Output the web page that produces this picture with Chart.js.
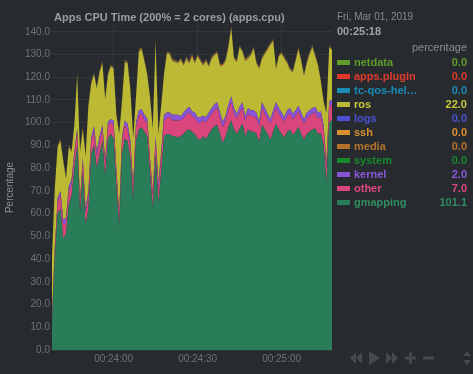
<!DOCTYPE html>
<html>
<head>
<meta charset="utf-8">
<script src="https://cdn.jsdelivr.net/npm/chart.js@4.4.0/dist/chart.umd.min.js"></script>
<style>
  html, body { margin: 0; padding: 0; background: #272b30; }
  #wrap { position: relative; width: 473px; height: 374px; overflow: hidden;
          font-family: "Liberation Sans", Arial, sans-serif; }
  #chart { position: absolute; left: 0; top: 0; }
  .title { position: absolute; left: 54px; top: 11px; font-size: 11px; font-weight: bold;
           color: #9a9ea2; white-space: nowrap; line-height: 13px; }
  .date { position: absolute; left: 337px; top: 11px; font-size: 10px; color: #868a8e; line-height: 12px; }
  .time { position: absolute; left: 337px; top: 25px; font-size: 11px; font-weight: bold; color: #9ea2a6; line-height: 13px; }
  .units { position: absolute; right: 6px; top: 41px; font-size: 11px; color: #8a8e92; line-height: 13px; }
  #legend { position: absolute; left: 337px; top: 55px; width: 130px; }
  .row { display: flex; align-items: center; height: 14px; line-height: 14px;
         font-size: 11px; font-weight: bold; white-space: nowrap; }
  .sw { width: 13px; height: 5px; margin-right: 4px; flex: none; }
  .nm { flex: 1; overflow: hidden; text-overflow: ellipsis; }
  .val { flex: none; text-align: right; }
  #ctrl { position: absolute; left: 348px; top: 348px; }
</style>
</head>
<body>
<div id="wrap">
  <canvas id="chart" width="473" height="374"></canvas>
  <div class="title">Apps CPU Time (200% = 2 cores) (apps.cpu)</div>
  <div class="date">Fri, Mar 01, 2019</div>
  <div class="time">00:25:18</div>
  <div class="units">percentage</div>
  <div id="legend"></div>
  <svg id="ctrl" width="125" height="20" viewBox="0 0 125 20">
    <g fill="#464a50">
      <polygon points="8,4 8,16 2,10"/><polygon points="14,4 14,16 8,10"/>
      <polygon points="21,3 21,17 32,10"/>
      <polygon points="38,4 38,16 44,10"/><polygon points="44,4 44,16 50,10"/>
      <rect x="57" y="8.5" width="11" height="3"/><rect x="61" y="4.5" width="3" height="11"/>
      <rect x="75" y="8.5" width="11" height="3"/>
      <polygon points="115,8 119,3 123,8"/><polygon points="115,12 119,17 123,12"/>
    </g>
  </svg>
</div>
<script>
// window starts at 00:23:38, one sample per second, ends 00:25:18
const startSec = 23 * 60 + 38;
const sampleCount = 101;
const tickLabels = ['00:24:00', '00:24:30', '00:25:00'];
const yTickValues = [0, 10, 20, 30, 40, 50, 60, 70, 80, 90, 100, 110, 120, 130, 140];

// stacked dimensions (bottom first)
const gmapping = [12, 40, 60, 62, 49, 51, 64, 68, 80, 90,
  60, 78, 55, 62, 86, 90, 80, 86, 92, 76,
  93, 95, 93, 72, 54, 86, 93, 92, 84, 66,
  92, 97, 98, 96, 94, 78, 62, 86, 65, 78,
  94, 95, 95, 94, 94, 93.5, 94, 95, 96.5, 97,
  96, 95, 93, 92.5, 94, 93, 95, 97, 98.5, 99,
  95, 91, 94, 98, 101, 97, 95, 97.5, 99.5, 94,
  97, 96, 96, 95, 91.5, 99, 97, 95, 92.5, 96,
  99.5, 97, 95, 93.5, 96, 97, 94.5, 96, 98, 95,
  92.5, 95, 96, 97, 97.5, 95, 95.5, 90, 73, 100,
  101.1];
const other = [2.5, 4, 5, 6, 6, 5, 6, 5, 6, 6,
  5, 5, 5, 6, 6, 6, 5, 6, 5, 6,
  6, 5, 6, 6, 5, 6, 6, 5, 6, 5,
  6, 6, 6, 5, 6, 5, 6, 6, 6, 7,
  7, 7, 7.5, 7, 7, 7.5, 7, 7, 7, 7.5,
  7, 7, 7, 7.5, 7, 7, 7, 7, 7, 7.5,
  7, 7, 7, 7.5, 8, 7, 7, 7, 7, 7,
  7, 7, 7, 7, 7, 7.5, 7, 7, 7, 7,
  7, 7, 7, 7, 7, 7, 7, 7, 7, 7,
  7, 7, 7, 7, 7, 7, 7, 7, 7, 7,
  7];
const kernel = [0.5, 1, 1.5, 2, 2.5, 2, 2, 2, 1.5, 1.5,
  1, 1.5, 2, 2, 1.5, 2.5, 2.5, 2, 2, 1.5,
  1.5, 1.5, 2, 1.5, 1, 1.5, 2, 2.5, 2, 1.5,
  2, 2.5, 2, 2.5, 2, 1.5, 1.5, 2, 2.5, 2,
  2.5, 2.5, 2, 2.5, 2.5, 2.5, 2, 2.5, 2.5, 2.5,
  2, 2.5, 2.5, 2.5, 2, 2.5, 2.5, 2.5, 2.5, 2.5,
  2.5, 2.5, 2, 2.5, 2.5, 2.5, 2, 2.5, 2.5, 2,
  2.5, 2.5, 2.5, 2.5, 2, 2.5, 2.5, 2, 2, 2.5,
  2.5, 2.5, 2.5, 2, 2.5, 2.5, 2.5, 2.5, 2.5, 2.5,
  2, 2.5, 2.5, 2.5, 2.5, 2.5, 2.5, 2, 2, 2.5,
  2];
// system, media, ssh, logs stayed at 0 over this window
const system = [];
const media = [];
const ssh = [];
const logs = [];
const ros = [26.2, 26.2, 22.7, 22.2, 25.7, 17.2, 17.2, 12.2, 11.7, 23.7,
  21.2, 12.7, 23.2, 37.2, 23.7, 22.7, 27.7, 28.2, 27.2, 26.7,
  20.7, 23.2, 22.7, 23.7, 35.2, 15.7, 25.7, 26.7, 22.2, 20.7,
  11.2, 25.7, 26.2, 23.7, 19.2, 26.7, 27.7, 42.2, 21.7, 20.2,
  17.7, 25.7, 25.7, 23.7, 23.2, 22.7, 24.7, 20.7, 22.2, 19.2,
  24.2, 21.7, 26.7, 24.7, 22.2, 24.7, 20.2, 21.7, 21.7, 21.7,
  20.7, 24.7, 24.2, 25.2, 30.2, 21.7, 22.7, 26.2, 22.2, 24.2,
  21.7, 24.2, 27.2, 21.7, 23.2, 19.2, 23.7, 28.2, 32.7, 30.7,
  14.7, 22.7, 25.7, 25.7, 20.7, 16.7, 18.2, 21.7, 24.7, 22.7,
  19.2, 21.7, 24.7, 26.7, 22.2, 20.7, 13.2, 10.2, 22.2, 23.7,
  22.0];
const tcQos = [0.1, 0.1, 0.1, 0.2, 0.1, 0.1, 0.1, 0.1, 0.2, 0.1,
  0.1, 0.1, 0.1, 0.1, 0.2, 0.1, 0.1, 0.1, 0.1, 0.1,
  0.2, 0.1, 0.1, 0.1, 0.1, 0.1, 0.2, 0.1, 0.1, 0.1,
  0.1, 0.2, 0.1, 0.1, 0.1, 0.1, 0.1, 0.1, 0.1, 0.1,
  0.1, 0.1, 0.2, 0.1, 0.1, 0.1, 0.1, 0.1, 0.3, 0.1,
  0.1, 0.1, 0.1, 0.1, 0.1, 0.1, 0.1, 0.2, 0.1, 0.1,
  0.1, 0.1, 0.1, 0.1, 0.1, 0.1, 0.1, 0.2, 0.1, 0.1,
  0.1, 0.1, 0.1, 0.1, 0.1, 0.2, 0.1, 0.1, 0.1, 0.1,
  0.1, 0.1, 0.1, 0.1, 0.1, 0.1, 0.2, 0.1, 0.1, 0.1,
  0.1, 0.1, 0.2, 0.1, 0.1, 0.1, 0.1, 0.1, 0.1, 0.1,
  0.0];
const appsPlugin = [0.4, 0.4, 0.3, 0.4, 0.4, 0.5, 0.4, 0.4, 0.3, 0.4,
  0.4, 0.4, 0.4, 0.5, 0.4, 0.4, 0.3, 0.4, 0.6, 0.4,
  0.4, 0.4, 0.3, 0.4, 0.4, 0.4, 0.4, 0.5, 0.4, 0.4,
  0.4, 0.6, 0.4, 0.4, 0.3, 0.4, 0.4, 0.4, 0.4, 0.4,
  0.4, 0.4, 0.4, 0.5, 0.4, 0.4, 0.4, 0.4, 0.4, 0.4,
  0.6, 0.4, 0.4, 0.4, 0.4, 0.5, 0.4, 0.4, 0.4, 0.4,
  0.4, 0.4, 0.4, 0.6, 0.4, 0.4, 0.4, 0.4, 0.4, 0.5,
  0.4, 0.4, 0.4, 0.4, 0.4, 0.4, 0.4, 0.6, 0.4, 0.4,
  0.4, 0.4, 0.5, 0.4, 0.4, 0.4, 0.4, 0.4, 0.6, 0.4,
  0.4, 0.4, 0.4, 0.4, 0.5, 0.4, 0.4, 0.4, 0.4, 0.5,
  0.0];
const netdata = [0.3, 0.3, 0.3, 0.3, 0.4, 0.3, 0.3, 0.3, 0.3, 0.3,
  0.3, 0.4, 0.3, 0.3, 0.3, 0.3, 0.3, 0.3, 0.4, 0.3,
  0.3, 0.3, 0.3, 0.3, 0.3, 0.4, 0.3, 0.3, 0.3, 0.3,
  0.3, 0.3, 0.5, 0.3, 0.3, 0.3, 0.3, 0.3, 0.3, 0.3,
  0.3, 0.4, 0.3, 0.3, 0.3, 0.3, 0.3, 0.4, 0.3, 0.3,
  0.3, 0.3, 0.3, 0.3, 0.4, 0.3, 0.3, 0.3, 0.3, 0.3,
  0.3, 0.3, 0.4, 0.3, 0.3, 0.3, 0.3, 0.3, 0.3, 0.3,
  0.4, 0.3, 0.3, 0.3, 0.3, 0.3, 0.3, 0.3, 0.4, 0.3,
  0.3, 0.3, 0.3, 0.3, 0.3, 0.4, 0.3, 0.3, 0.3, 0.3,
  0.3, 0.3, 0.3, 0.4, 0.3, 0.3, 0.3, 0.3, 0.3, 0.3,
  0.0];

// legend order (top to bottom), stack order is the reverse
const series = [
  { name: 'netdata',            data: netdata,    fill: '#5f9c2a', text: '#5f9c2a' },
  { name: 'apps.plugin',        data: appsPlugin, fill: '#e0392a', text: '#e23b2b' },
  { name: 'tc-qos-helper',      data: tcQos,      fill: '#1a8cb6', text: '#1a8cb6' },
  { name: 'ros',                data: ros,        fill: '#bcba34', text: '#c9c83a' },
  { name: 'logs',               data: logs,       fill: '#4d50d2', text: '#4d50d2' },
  { name: 'ssh',                data: ssh,        fill: '#d8902e', text: '#d8902e' },
  { name: 'media',              data: media,      fill: '#b5722a', text: '#b5722a' },
  { name: 'system',             data: system,     fill: '#17892b', text: '#17892b' },
  { name: 'kernel',             data: kernel,     fill: '#8953d6', text: '#8d57dc' },
  { name: 'other',              data: other,      fill: '#d9467c', text: '#e0487e' },
  { name: 'gmapping',           data: gmapping,   fill: '#2a7d59', text: '#2f8c5f' }
];

const times = [];
for (let i = 0; i < sampleCount; i++) {
  const s = startSec + i;
  times.push('00:' + String(Math.floor(s / 60)).padStart(2, '0') + ':' + String(s % 60).padStart(2, '0'));
}

// legend
const legendEl = document.getElementById('legend');
series.forEach(s => {
  const last = s.data.length ? s.data[s.data.length - 1] : 0;
  const row = document.createElement('div');
  row.className = 'row';
  row.style.color = s.text;
  row.innerHTML = '<span class="sw" style="background:' + s.fill + '"></span>' +
    '<span class="nm">' + s.name + '</span><span class="val">' + last.toFixed(1) + '</span>';
  legendEl.appendChild(row);
});
// netdata cuts long names
legendEl.children[2].querySelector('.nm').textContent = 'tc-qos-hel\u2026';

const stacked = series.slice().reverse().filter(s => s.data.length);
const datasets = stacked.map((s, i) => ({
  label: s.name,
  data: s.data,
  backgroundColor: s.fill,
  borderColor: s.fill,
  borderWidth: 0,
  pointRadius: 0,
  tension: 0,
  fill: i === 0 ? 'origin' : '-1'
}));

Chart.defaults.font.family = '"Liberation Sans", Arial, sans-serif';

new Chart(document.getElementById('chart'), {
  type: 'line',
  data: { labels: times, datasets: datasets },
  options: {
    responsive: false,
    animation: false,
    layout: { padding: { top: 25, right: 141, bottom: 0, left: 0 } },
    plugins: { legend: { display: false }, tooltip: { enabled: false } },
    scales: {
      x: {
        type: 'category',
        offset: false,
        border: { display: false },
        grid: { color: '#33383d', drawTicks: false },
        ticks: { color: '#6f7378', font: { size: 10 }, padding: 3, autoSkip: false, maxRotation: 0 },
        afterBuildTicks: scale => {
          scale.ticks = scale.ticks.filter(t => tickLabels.includes(times[t.value]));
        },
        afterFit: scale => { scale.height = 24; }
      },
      y: {
        stacked: true,
        min: 0,
        max: 143,
        border: { display: false },
        grid: { color: '#33383d', drawTicks: false },
        ticks: { color: '#6f7378', font: { size: 10 }, padding: 2, autoSkip: false,
                 callback: v => v.toFixed(1) },
        afterBuildTicks: scale => {
          scale.ticks = yTickValues.map(v => ({ value: v }));
        },
        title: { display: true, text: 'Percentage', color: '#8a8e92', font: { size: 10 },
                 padding: { top: 4, bottom: 0 } },
        afterFit: scale => { scale.width = 52; }
      }
    }
  }
});
</script>
</body>
</html>
